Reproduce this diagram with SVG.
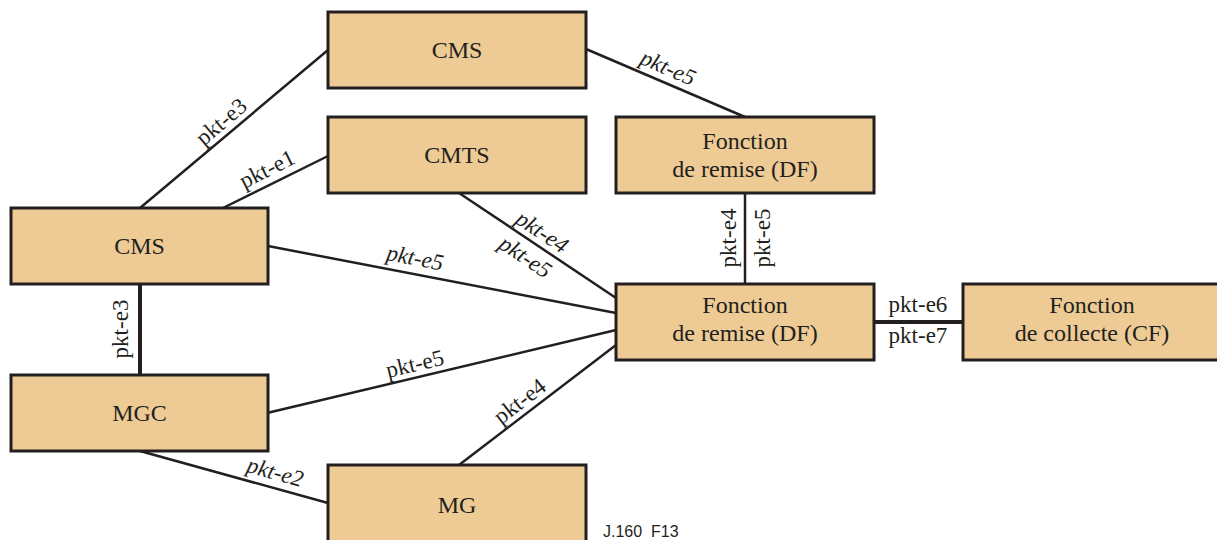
<svg xmlns="http://www.w3.org/2000/svg" width="1217" height="540" viewBox="0 0 1217 540">
<style>
.box{fill:#EECB94;stroke:#231F20;stroke-width:3}
.t{font-family:'Liberation Serif','Times New Roman','DejaVu Serif',serif;font-size:23px;fill:#231F20;text-anchor:middle}
.n{font-size:24px}
.i{font-style:italic}
.c{stroke:#231F20;stroke-width:2.5;fill:none}
.ct{stroke:#231F20;stroke-width:4;fill:none}
.ref{font-family:'Liberation Sans',Arial,sans-serif;font-size:16px;fill:#231F20}
</style>
<rect width="1217" height="540" fill="#FFFFFF"/>
<g id="connectors">
<line class="c" x1="140" y1="208" x2="328" y2="50"/>
<line class="c" x1="223" y1="208" x2="328" y2="156"/>
<line class="c" x1="586" y1="49" x2="745" y2="117"/>
<line class="c" x1="459" y1="193" x2="616" y2="298"/>
<line class="c" x1="268" y1="246" x2="616" y2="313"/>
<line class="c" x1="267" y1="413" x2="616" y2="330"/>
<line class="c" x1="459" y1="465" x2="616" y2="345"/>
<line class="c" x1="140" y1="451" x2="328" y2="503"/>
<line class="ct" x1="140" y1="284" x2="140" y2="375"/>
<line class="c" x1="745" y1="193" x2="745" y2="284"/>
<line class="ct" x1="874" y1="322" x2="963" y2="322"/>
<text class="t" transform="translate(230,132) rotate(-40.2)" y="-6">pkt-e3</text>
<text class="t" transform="translate(274,183) rotate(-26.6)" y="-8">pkt-e1</text>
<text class="t i" transform="translate(662,82) rotate(23.2)" y="-8">pkt-e5</text>
<text class="t i" transform="translate(534,244) rotate(33.6)" y="-7">pkt-e4</text>
<text class="t i" transform="translate(534,244) rotate(33.6)" y="23">pkt-e5</text>
<text class="t i" transform="translate(412,274) rotate(10.9)" y="-9">pkt-e5</text>
<text class="t" transform="translate(418,377) rotate(-13.4)" y="-6">pkt-e5</text>
<text class="t" transform="translate(528,412) rotate(-37.4)" y="-6">pkt-e4</text>
<text class="t i" transform="translate(271,487) rotate(15.5)" y="-8">pkt-e2</text>
<text class="t" transform="translate(128,329) rotate(-90)">pkt-e3</text>
<text class="t" transform="translate(736,238) rotate(-90)">pkt-e4</text>
<text class="t" transform="translate(770,238) rotate(-90)">pkt-e5</text>
<text class="t" x="918" y="312">pkt-e6</text>
<text class="t" x="918" y="343">pkt-e7</text>
</g>
<g id="cms-top"><rect class="box" x="328" y="12" width="258" height="76"/><text class="t n" x="457" y="58">CMS</text></g>
<g id="cmts"><rect class="box" x="328" y="117" width="258" height="76"/><text class="t n" x="457" y="163">CMTS</text></g>
<g id="df-top"><rect class="box" x="616" y="117" width="258" height="76"/><text class="t n" x="745" y="149">Fonction</text><text class="t n" x="745" y="177">de remise (DF)</text></g>
<g id="cms-left"><rect class="box" x="11" y="208" width="257" height="76"/><text class="t n" x="139.5" y="254">CMS</text></g>
<g id="df"><rect class="box" x="616" y="284" width="258" height="76"/><text class="t n" x="745" y="313">Fonction</text><text class="t n" x="745" y="341">de remise (DF)</text></g>
<g id="cf"><rect class="box" x="963" y="284" width="260" height="76"/><text class="t n" x="1092" y="313">Fonction</text><text class="t n" x="1092" y="341">de collecte (CF)</text></g>
<g id="mgc"><rect class="box" x="11" y="375" width="257" height="76"/><text class="t n" x="139.5" y="421">MGC</text></g>
<g id="mg"><rect class="box" x="328" y="465" width="258" height="80"/><text class="t n" x="457" y="513">MG</text></g>
<text class="ref" x="603" y="537" xml:space="preserve">J.160  F13</text>
</svg>
